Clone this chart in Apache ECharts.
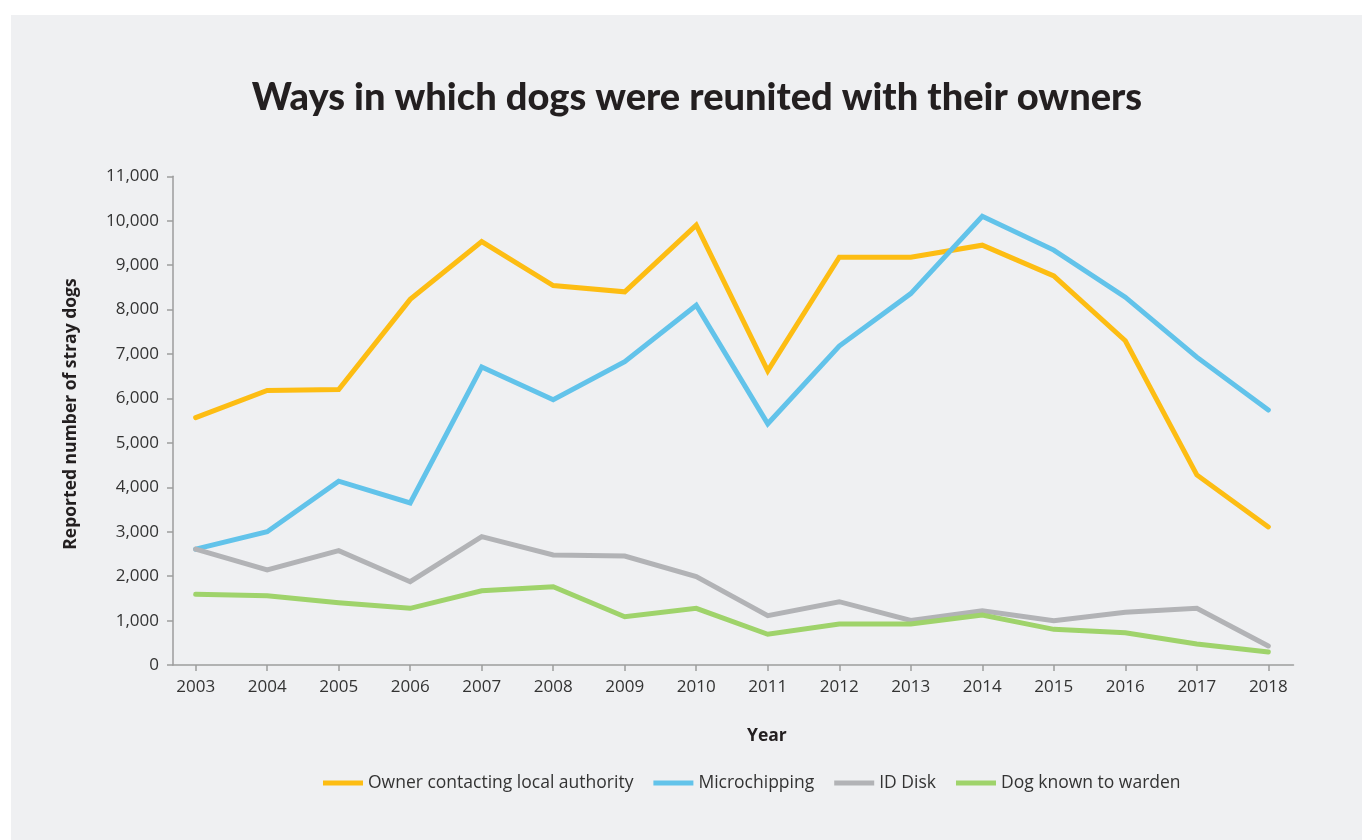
<!DOCTYPE html>
<html>
<head>
<meta charset="utf-8">
<script src="https://cdn.jsdelivr.net/npm/echarts@6/dist/echarts.min.js"></script>
<style>
  html, body { margin: 0; padding: 0; background: #ffffff; }
  #panel { position: absolute; left: 11px; top: 15px; width: 1351px; height: 825px; background: #eff0f2; }
  #chart { position: absolute; left: 0; top: 0; width: 1362px; height: 840px; }
</style>
</head>
<body>
<div id="panel"></div>
<div id="chart"></div>
<script>
// Years on the horizontal axis
const years = [2003, 2004, 2005, 2006, 2007, 2008, 2009, 2010, 2011, 2012, 2013, 2014, 2015, 2016, 2017, 2018];

// Reported number of stray dogs reunited, by method
const ownerContacting = [5570, 6180, 6200, 8230, 9530, 8540, 8400, 9900, 6620, 9180, 9180, 9450, 8760, 7300, 4280, 3110];
const microchipping   = [2610, 3000, 4140, 3650, 6710, 5970, 6830, 8100, 5430, 7180, 8360, 10100, 9340, 8280, 6930, 5740];
const idDisk          = [2610, 2140, 2575, 1877, 2890, 2478, 2455, 1990, 1112, 1427, 1005, 1225, 1000, 1188, 1278, 430];
const knownToWarden   = [1593, 1562, 1404, 1278, 1674, 1764, 1089, 1278, 693, 925, 925, 1127, 805, 729, 475, 295];

const seriesNames = ['Owner contacting local authority', 'Microchipping', 'ID Disk', 'Dog known to warden'];
const seriesColors = ['#fdbd13', '#62c3ea', '#b2b3b6', '#9fd36b'];
const seriesValues = [ownerContacting, microchipping, idDisk, knownToWarden];

const chart = echarts.init(document.getElementById('chart'), null, { renderer: 'canvas' });

const labelFont = '"Open Sans", "Noto Sans", sans-serif';

chart.setOption({
  backgroundColor: 'transparent',
  animation: false,
  title: {
    text: 'Ways in which dogs were reunited with their owners',
    left: 692,
    top: 74,
    textAlign: 'center',
    textStyle: {
      fontFamily: 'Lato, sans-serif',
      fontWeight: 900,
      fontSize: 38,
      color: '#231f20'
    }
  },
  legend: {
    left: 318,
    top: 769,
    icon: 'rect',
    itemWidth: 40,
    itemHeight: 5,
    itemGap: 20,
    textStyle: { fontFamily: labelFont, fontSize: 17.5, color: '#333333', padding: [0, 0, 0, 0] },
    data: seriesNames
  },
  grid: { left: 173, right: 68.5, top: 176.3, bottom: 840 - 665.1 },
  xAxis: {
    type: 'value',
    min: 2002.683,
    max: 2018.352,
    splitLine: { show: false },
    axisLine: { lineStyle: { color: '#9d9d9d', width: 1.5 } },
    axisTick: { show: true, length: 6, lineStyle: { color: '#9d9d9d', width: 1.5 }, customValues: years },
    axisLabel: {
      customValues: years,
      formatter: v => String(Math.round(v)),
      margin: 14,
      fontFamily: labelFont,
      fontSize: 17,
      color: '#333333'
    }
  },
  yAxis: {
    type: 'value',
    min: 0,
    max: 11000,
    interval: 1000,
    splitLine: { show: false },
    axisLine: { show: true, lineStyle: { color: '#9d9d9d', width: 1.5 } },
    axisTick: { show: true, length: 6, lineStyle: { color: '#9d9d9d', width: 1.5 } },
    axisLabel: { margin: 14, fontFamily: labelFont, fontSize: 17, color: '#333333' }
  },
  graphic: [
    {
      type: 'text',
      left: 747,
      top: 727,
      style: {
        text: 'Year',
        x: 0, y: 0,
        textAlign: 'center',
        font: 'bold 17.5px ' + labelFont,
        fill: '#231f20'
      }
    },
    {
      type: 'text',
      x: 62,
      y: 414,
      rotation: Math.PI / 2,
      style: {
        text: 'Reported number of stray dogs',
        textAlign: 'center',
        textVerticalAlign: 'top',
        font: 'bold 17.5px ' + labelFont,
        fill: '#231f20'
      }
    }
  ],
  series: seriesNames.map((name, i) => ({
    name: name,
    type: 'line',
    showSymbol: false,
    symbol: 'none',
    color: seriesColors[i],
    lineStyle: { width: 5, color: seriesColors[i], cap: 'round', join: 'miter' },
    data: years.map((y, k) => [y, seriesValues[i][k]])
  }))
});
</script>
</body>
</html>
